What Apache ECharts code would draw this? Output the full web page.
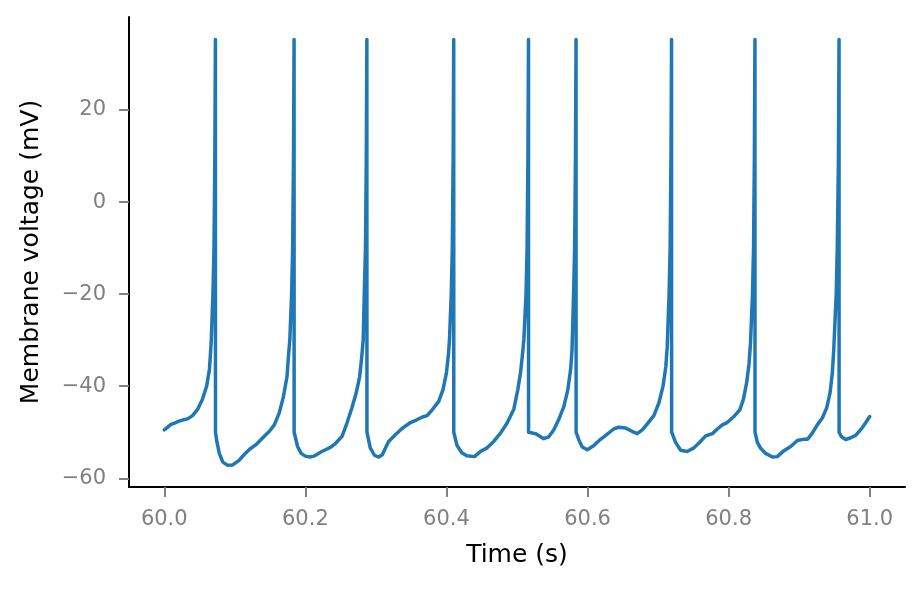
<!DOCTYPE html>
<html><head><meta charset="utf-8">
<script src="https://cdn.jsdelivr.net/npm/echarts@6/dist/echarts.min.js"></script>
<style>html,body{margin:0;padding:0;background:#fff}#c{width:923px;height:590px}</style>
</head><body><div id="c"></div>
<script>
const timeS = [
60.000,60.004,60.0095,60.015,60.021,60.027,60.033,60.040,60.047,60.054,60.060,60.064,60.0665,60.0690,60.0705,60.0717,60.0725,
60.0726,60.0745,60.078,60.083,60.090,60.097,60.106,60.113,60.121,60.130,60.139,60.149,60.156,60.163,60.169,60.174,60.176,60.178,60.1805,60.182,60.1832,60.1840,
60.1841,60.189,60.194,60.200,60.206,60.212,60.222,60.230,60.2355,60.243,60.252,60.259,60.266,60.272,60.277,60.280,60.282,60.2835,60.2852,60.2864,60.2872,
60.2873,60.292,60.2979,60.304,60.309,60.318,60.328,60.337,60.349,60.358,60.366,60.3726,60.380,60.389,60.395,60.400,60.403,60.4043,60.4068,60.4083,60.4095,60.4103,
60.4104,60.415,60.422,60.429,60.4397,60.448,60.4577,60.467,60.4766,60.486,60.4955,60.5011,60.505,60.508,60.5097,60.5128,60.5143,60.5155,60.5163,
60.5164,60.526,60.538,60.545,60.552,60.559,60.5665,60.572,60.576,60.578,60.5802,60.5817,60.5829,60.5837,
60.5838,60.588,60.5925,60.5996,60.609,60.618,60.628,60.637,60.6444,60.654,60.663,60.6705,60.6776,60.6847,60.694,60.701,60.707,60.711,60.713,60.7156,60.7171,60.7183,60.7191,
60.7192,60.7248,60.732,60.741,60.7508,60.760,60.7674,60.777,60.784,60.791,60.798,60.8075,60.816,60.8208,60.8255,60.829,60.831,60.8338,60.8353,60.8365,60.8373,
60.8374,60.8407,60.8454,60.8525,60.862,60.869,60.8784,60.888,60.8974,60.9068,60.912,60.9186,60.9257,60.9328,60.939,60.9437,60.947,60.949,60.9525,60.954,60.9557,60.9565,
60.9566,60.960,60.966,60.973,60.980,60.987,60.994,61.000
];
const voltageMV = [
-49.5,-49.0,-48.3,-48.0,-47.6,-47.3,-47.1,-46.4,-45.1,-42.9,-40.0,-36.4,-30.5,-20,-10,10,35.3,
-50.0,-52.0,-54.6,-56.5,-57.2,-57.1,-56.1,-54.9,-53.7,-52.7,-51.3,-49.8,-48.4,-45.8,-42.2,-37.9,-33.5,-29.9,-20,-10,10,35.3,
-50.0,-53.1,-54.6,-55.2,-55.4,-55.2,-54.3,-53.7,-53.3,-52.4,-50.9,-48.0,-44.7,-41.5,-37.9,-33.5,-29.9,-20,-10,10,35.3,
-50.0,-53.4,-55.0,-55.4,-54.9,-52.0,-50.5,-49.2,-47.9,-47.3,-46.7,-46.4,-45.1,-43.3,-40.8,-37.1,-32.8,-29.9,-20,-10,10,35.3,
-50.0,-52.9,-54.5,-55.1,-55.3,-54.2,-53.4,-52.0,-50.2,-48.0,-45.0,-40.8,-37.1,-32.8,-29.9,-20,-10,10,35.3,
-50.0,-50.3,-51.4,-51.0,-49.5,-47.3,-44.4,-40.8,-36.4,-32.1,-20,-10,10,35.3,
-50.0,-51.8,-53.2,-53.8,-52.9,-51.6,-50.4,-49.3,-48.9,-49.1,-49.8,-50.3,-49.5,-48.2,-46.4,-43.7,-40.0,-35.7,-31.3,-20,-10,10,35.3,
-50.0,-52.2,-53.9,-54.2,-53.4,-52.0,-50.8,-50.3,-49.3,-48.4,-47.9,-46.6,-45.1,-42.9,-39.3,-35.0,-30.6,-20,-10,10,35.3,
-50.0,-52.2,-53.5,-54.6,-55.4,-55.3,-54.0,-53.1,-51.8,-51.5,-51.5,-50.2,-48.4,-46.9,-44.7,-41.5,-37.1,-32.1,-20,-10,10,35.3,
-50.0,-51.0,-51.6,-51.2,-50.7,-49.5,-48.0,-46.6
];
const xTicks = [60.0, 60.2, 60.4, 60.6, 60.8, 61.0];
const yTicks = [-60, -40, -20, 0, 20];

const points = timeS.map((t, i) => [t, voltageMV[i]]);
const chart = echarts.init(document.getElementById('c'), null, {renderer: 'canvas'});
const tickGray = '#808080';
const font = 'DejaVu Sans';
chart.setOption({
  animation: false,
  backgroundColor: '#ffffff',
  grid: {left: 129, right: 18, top: 17, bottom: 103, containLabel: false},
  xAxis: {
    type: 'value', min: 59.95, max: 61.05,
    name: 'Time (s)', nameLocation: 'middle', nameGap: 56,
    nameTextStyle: {color: '#000', fontSize: 25, fontFamily: font},
    axisLine: {show: true, onZero: false, lineStyle: {color: '#000', width: 2}},
    axisTick: {show: true, inside: false, length: 10, customValues: xTicks, lineStyle: {color: tickGray, width: 2}},
    axisLabel: {customValues: xTicks, margin: 22, color: tickGray, fontSize: 21, fontFamily: font,
      formatter: v => v.toFixed(1)},
    splitLine: {show: false}
  },
  yAxis: {
    type: 'value', min: -61.9, max: 40.2,
    name: 'Membrane voltage (mV)', nameLocation: 'middle', nameGap: 85, nameRotate: 90,
    nameTextStyle: {color: '#000', fontSize: 25, fontFamily: font},
    axisLine: {show: true, onZero: false, lineStyle: {color: '#000', width: 2}},
    axisTick: {show: true, inside: false, length: 10, customValues: yTicks, lineStyle: {color: tickGray, width: 2}},
    axisLabel: {customValues: yTicks, margin: 23, color: tickGray, fontSize: 21, fontFamily: font,
      formatter: v => String(v).replace('-', '\u2212')},
    splitLine: {show: false}
  },
  series: [{
    type: 'line', data: points, showSymbol: false, smooth: false,
    lineStyle: {color: '#1f77b4', width: 3.5, join: 'round', cap: 'round'},
    emphasis: {disabled: true}
  }]
});
</script></body></html>
